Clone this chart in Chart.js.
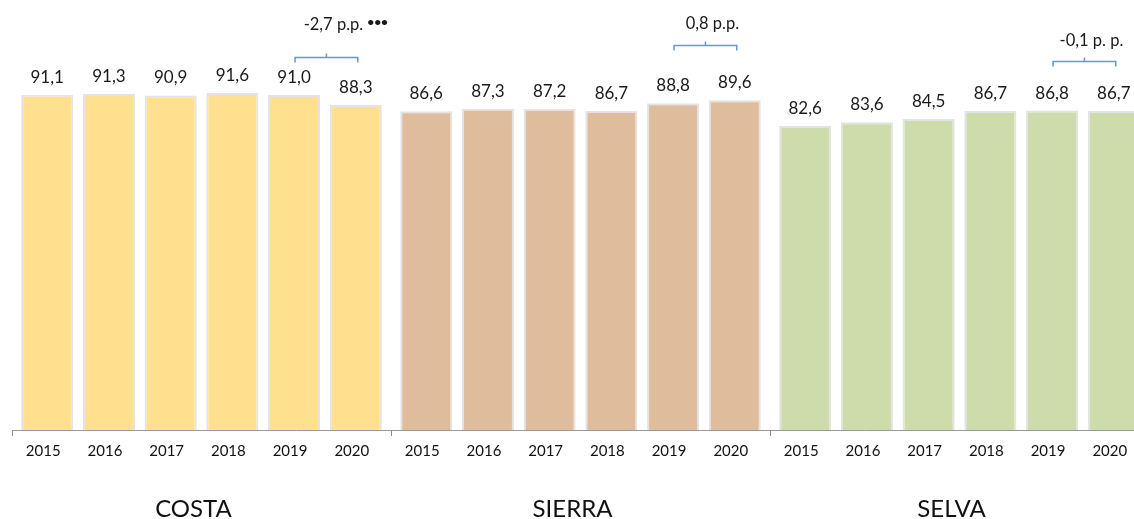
<!DOCTYPE html>
<html>
<head>
<meta charset="utf-8">
<script src="https://cdn.jsdelivr.net/npm/chart.js@4.4.1/dist/chart.umd.min.js"></script>
<style>
  html, body { margin: 0; padding: 0; background: #fff; overflow: hidden; width: 1134px; height: 519px; }
  #wrap { position: relative; width: 1149px; height: 519px; }
</style>
</head>
<body>
<div id="wrap"><canvas id="c"></canvas></div>
<script>
// ---- data ----
const groups = ['COSTA', 'SIERRA', 'SELVA'];
const years = ['2015', '2016', '2017', '2018', '2019', '2020'];
const costa = [91.1, 91.3, 90.9, 91.6, 91.0, 88.3];
const sierra = [86.6, 87.3, 87.2, 86.7, 88.8, 89.6];
const selva = [82.6, 83.6, 84.5, 86.7, 86.8, 86.7];
const groupColors = ['#FFE08F', '#DFBD9C', '#CDDCAA'];
// change annotations (2019 -> 2020)
const changeLabels = ['-2,7 p.p.', '0,8 p.p.', '-0,1 p. p.'];
const changeMarks = ['•••', '', ''];
const bracketLevel = [101.4, 104.7, 100.4];
const changeTextLevel = [110.1, 110.4, 105.8];

const seriesByGroup = [costa, sierra, selva];
// one dataset per year, one category per region
const datasets = years.map((y, yi) => ({
  label: y,
  data: seriesByGroup.map(s => s[yi]),
  backgroundColor: groupColors,
  borderColor: '#E3E3E3',
  borderWidth: 2,
  borderSkipped: 'bottom',
  categoryPercentage: 0.977,
  barPercentage: 0.843
}));

const fmt = v => v.toFixed(1).replace('.', ',');
const FONT = 'Lato, "Open Sans", sans-serif';

const annotate = {
  id: 'annotate',
  afterDatasetsDraw(chart) {
    const ctx = chart.ctx;
    const xs = chart.scales.x, ys = chart.scales.y;
    const bottom = chart.chartArea.bottom;
    const catW = xs.getPixelForValue(1) - xs.getPixelForValue(0);
    ctx.save();
    // value labels + year labels
    years.forEach((y, yi) => {
      const meta = chart.getDatasetMeta(yi);
      meta.data.forEach((bar, gi) => {
        ctx.fillStyle = '#1a1a1a';
        ctx.font = '17px ' + FONT;
        ctx.textAlign = 'center';
        ctx.textBaseline = 'alphabetic';
        ctx.fillText(fmt(seriesByGroup[gi][yi]), bar.x, bar.y - 12);
        ctx.fillStyle = '#111';
        ctx.font = '15px ' + FONT;
        ctx.textBaseline = 'middle';
        ctx.fillText(y, bar.x - 4, 451);
      });
    });
    // group separator ticks
    ctx.strokeStyle = '#8c8c8c';
    ctx.lineWidth = 1;
    for (let g = 0; g <= groups.length; g++) {
      const x = Math.round(xs.getPixelForValue(0) + (g - 0.5) * catW) + 0.5;
      ctx.beginPath();
      ctx.moveTo(x, bottom);
      ctx.lineTo(x, bottom + 6);
      ctx.stroke();
    }
    // group labels
    ctx.fillStyle = '#111';
    ctx.font = '24px ' + FONT;
    ctx.textAlign = 'center';
    ctx.textBaseline = 'middle';
    groups.forEach((g, gi) => {
      ctx.fillText(g, xs.getPixelForValue(gi) - 8, 509);
    });
    // brackets for change 2019 -> 2020
    const m19 = chart.getDatasetMeta(years.indexOf('2019'));
    const m20 = chart.getDatasetMeta(years.indexOf('2020'));
    groups.forEach((g, gi) => {
      const x1 = m19.data[gi].x + 1;
      const x2 = m20.data[gi].x + 2;
      const yb = Math.round(ys.getPixelForValue(bracketLevel[gi])) + 0.5;
      const xm = (x1 + x2) / 2;
      ctx.strokeStyle = '#6E95C8';
      ctx.lineWidth = 1.5;
      ctx.beginPath();
      ctx.moveTo(x1, yb + 5);
      ctx.lineTo(x1, yb);
      ctx.lineTo(x2, yb);
      ctx.lineTo(x2, yb + 5);
      ctx.moveTo(xm, yb);
      ctx.lineTo(xm, yb - 4);
      ctx.stroke();
      const ty = ys.getPixelForValue(changeTextLevel[gi]);
      ctx.fillStyle = '#1a1a1a';
      ctx.font = '16.5px ' + FONT;
      ctx.textAlign = 'center';
      ctx.textBaseline = 'middle';
      const tx = xm + 7;
      ctx.fillText(changeLabels[gi], tx, ty);
      if (changeMarks[gi]) {
        const w = ctx.measureText(changeLabels[gi]).width;
        ctx.font = 'bold 12px ' + FONT;
        ctx.textAlign = 'left';
        ctx.fillText(changeMarks[gi], tx + w / 2 + 4, ty - 3);
      }
    });
    ctx.restore();
  }
};

new Chart(document.getElementById('c'), {
  type: 'bar',
  data: { labels: groups, datasets: datasets },
  options: {
    responsive: true,
    maintainAspectRatio: false,
    animation: false,
    layout: { padding: { left: 12, right: 0, top: 62, bottom: 89 } },
    plugins: { legend: { display: false }, tooltip: { enabled: false } },
    scales: {
      x: {
        offset: true,
        grid: { display: false, drawTicks: false, tickLength: 0 },
        border: { display: true, color: '#9a9a9a', width: 1 },
        ticks: { display: false, padding: 0 }
      },
      y: {
        display: false,
        min: 0,
        max: 100
      }
    }
  },
  plugins: [annotate]
});
</script>
</body>
</html>
